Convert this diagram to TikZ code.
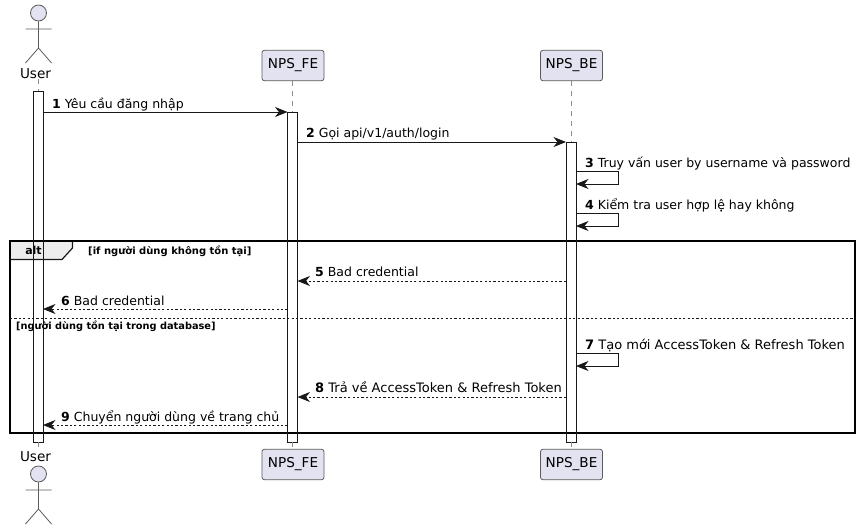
\documentclass[tikz,border=0pt]{standalone}
\usepackage{fontspec}
\setmainfont{DejaVu Sans}
\usetikzlibrary{arrows.meta}
\definecolor{partfill}{HTML}{E2E2F0}
\definecolor{partline}{HTML}{5B5B5B}
\definecolor{inkline}{HTML}{181818}
\tikzset{
  partbox/.style={draw=partline, fill=partfill, rounded corners=2.5pt, line width=0.8pt,
    minimum width=62pt, minimum height=30.5pt, inner sep=0pt, font=\fontsize{13.6}{15}\selectfont},
  actorname/.style={inner sep=0pt, font=\fontsize{13.6}{15}\selectfont},
  actorhead/.style={circle, draw=partline, fill=partfill, line width=0.8pt, minimum size=16pt, inner sep=0pt},
  actorline/.style={draw=partline, line width=0.8pt},
  lifeline/.style={draw=partline!70, line width=0.7pt, dash pattern=on 5pt off 5pt},
  barbox/.style={draw=inkline, line width=1pt, minimum width=10pt, inner sep=0pt, outer sep=0pt},
  msg/.style={draw=inkline, line width=0.9pt, -{Stealth[length=12.5pt,width=10pt,inset=4pt]}},
  msgback/.style={msg, dash pattern=on 2.2pt off 2.2pt},
  msglabel/.style={anchor=base west, inner sep=0pt, font=\fontsize{12.5}{14}\selectfont},
  msglabelwide/.style={msglabel, font=\fontsize{13}{14}\selectfont},
  guardlabel/.style={anchor=base west, inner sep=0pt, font=\fontsize{10}{12}\selectfont\bfseries},
}
\newcommand{\num}[1]{\textbf{#1}~}
\begin{document}
\begin{tikzpicture}[x=1pt, y=-1pt]
  \useasboundingbox (0,0) rectangle (860,530);
  % alt frame
  \draw[fill=black!7, draw=inkline, line width=1.2pt] (10,241) -- (72.5,241) -- (72.5,248)
    -- (62,259.5) -- (10,259.5) -- cycle;
  \draw[black, line width=1.8pt] (10,241) rectangle (855,433);
  \draw[inkline, line width=0.9pt, dash pattern=on 2.2pt off 2.2pt] (10,318) -- (855,318);
  \node[inner sep=0pt, font=\fontsize{11}{13}\selectfont\bfseries] (altname) at (33.5,250.5) {alt};
  \node[guardlabel] (guardif) at (88,254) {[if người dùng không tồn tại]};
  \node[guardlabel, font=\fontsize{9.8}{12}\selectfont\bfseries] (guardelse) at (16,329) {[người dùng tồn tại trong database]};

  % participants
  \node[partbox] (feTop) at (293,65.5) {NPS\_FE};
  \node[partbox] (beTop) at (571.5,65.5) {NPS\_BE};
  \node[partbox] (feBot) at (293,464.5) {NPS\_FE};
  \node[partbox] (beBot) at (571.5,464.5) {NPS\_BE};
  \node[actorname] (userTop) at (35.5,74) {User};
  \node[actorname] (userBot) at (35.5,457) {User};

  % activation bars
  \node[barbox, minimum height=351pt] (barUser) at (38,266.5) {};
  \node[barbox, minimum height=330pt] (barFE) at (292.5,277) {};
  \node[barbox, minimum height=300pt] (barBE) at (571,292) {};

  % lifelines
  \draw[lifeline] (barUser.north |- userTop.south) -- (barUser.north);
  \draw[lifeline] (barUser.south) -- (barUser.south |- userBot.north);
  \draw[lifeline] (barFE.north |- feTop.south) -- (barFE.north);
  \draw[lifeline] (barFE.south) -- (barFE.south |- feBot.north);
  \draw[lifeline] (barBE.north |- beTop.south) -- (barBE.north);
  \draw[lifeline] (barBE.south) -- (barBE.south |- beBot.north);

  % actors
  \node[actorhead] (headTop) at (38.5,13) {};
  \draw[actorline] (headTop.south) -- (38.5,48) (25.5,29) -- (51.5,29)
    (25.5,63) -- (38.5,48) -- (51.5,63);
  \node[actorhead] (headBot) at (38.5,474) {};
  \draw[actorline] (headBot.south) -- (38.5,509) (25.5,490) -- (51.5,490)
    (25.5,524) -- (38.5,509) -- (51.5,524);

  % messages
  \draw[msg] (barUser.east |- 0,112) -- (barFE.west |- 0,112);
  \node[msglabel] (lblA) at (52,108) {\num{1}Yêu cầu đăng nhập};
  \draw[msg] (barFE.east |- 0,142) -- (barBE.west |- 0,142);
  \node[msglabel] (lblB) at (306,137.5) {\num{2}Gọi api/v1/auth/login};
  \draw[msg] (barBE.east |- 0,171.5) -- (618.5,171.5) -- (618.5,184) -- (barBE.east |- 0,184);
  \node[msglabel] (lblC) at (585,167) {\num{3}Truy vấn user by username và password};
  \draw[msg] (barBE.east |- 0,213) -- (618.5,213) -- (618.5,226) -- (barBE.east |- 0,226);
  \node[msglabel] (lblD) at (585,209) {\num{4}Kiểm tra user hợp lệ hay không};
  \draw[msgback] (barBE.west |- 0,281) -- (barFE.east |- 0,281);
  \node[msglabel] (lblE) at (315,276) {\num{5}Bad credential};
  \draw[msgback] (barFE.west |- 0,309) -- (barUser.east |- 0,309);
  \node[msglabel] (lblF) at (61,305) {\num{6}Bad credential};
  \draw[msg] (barBE.east |- 0,353) -- (618.5,353) -- (618.5,366) -- (barBE.east |- 0,366);
  \node[msglabelwide] (lblG) at (585,349) {\num{7}Tạo mới AccessToken \& Refresh Token};
  \draw[msgback] (barBE.west |- 0,397) -- (barFE.east |- 0,397);
  \node[msglabelwide] (lblH) at (315,392) {\num{8}Trả về AccessToken \& Refresh Token};
  \draw[msgback] (barFE.west |- 0,425) -- (barUser.east |- 0,425);
  \node[msglabel] (lblI) at (61,421) {\num{9}Chuyển người dùng về trang chủ};
\end{tikzpicture}
\end{document}
